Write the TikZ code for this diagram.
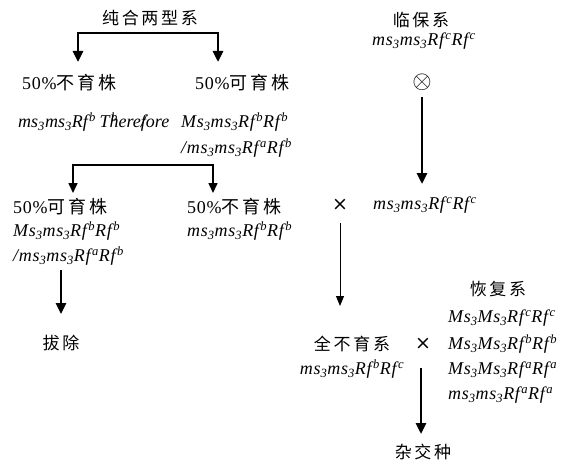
\documentclass[tikz,border=0pt]{standalone}
\usepackage{fontspec}
\setmainfont{Liberation Serif}[LetterSpace=4]
\newfontfamily\cjk[LetterSpace=16]{Noto Sans CJK SC}
\newfontfamily\symf{DejaVu Sans}
\usetikzlibrary{arrows.meta}
\newcommand\lo[1]{\textsubscript{#1}}
\newcommand\hi[1]{\kern0.08em\textsuperscript{#1}}
\newcommand\gen[1]{\textit{#1}}
\tikzset{
  lbl/.style={inner sep=0pt, font=\fontsize{18}{20}\selectfont},
  cn/.style={inner sep=0pt, font=\fontsize{17}{19}\selectfont\cjk},
  sym/.style={inner sep=0pt, font=\fontsize{19}{21}\selectfont\symf},
  thickarr/.style={line width=2.6pt, -{Triangle[width=10pt,length=11pt]}},
  midarr/.style={line width=1.6pt, -{Triangle[width=9pt,length=10pt]}},
  thinarr/.style={line width=0.9pt, -{Triangle[width=8pt,length=10pt]}},
}
\begin{document}
\begin{tikzpicture}[x=1pt,y=-1pt]
\useasboundingbox (0,0) rectangle (577,465);
% left top
\node[cn] (title) at (150,18) {纯合两型系};
\coordinate (j1) at (148,33);
\coordinate (a1) at (78,62);
\coordinate (a2) at (218,62);
\draw[thickarr] (j1) -| (a1);
\draw[thickarr] (j1) -| (a2);
\node[lbl, anchor=west] (s1) at (22,83) {50\%{\cjk 不育株}};
\node[lbl, anchor=west] (f1) at (195,83) {50\%{\cjk 可育株}};
\node[lbl, anchor=west] (s1g) at (18,122) {\addfontfeature{LetterSpace=0}\gen{ms\lo{3}ms\lo{3}Rf\hi{b}\kern0.2em T\rlap{\hi{b}}here\rlap{/}fore}};
\node[lbl, anchor=west] (f1g) at (181,122) {\gen{Ms\lo{3}ms\lo{3}Rf\hi{b}Rf\hi{b}}};
\node[lbl, anchor=west] (f1h) at (181,148) {\gen{/ms\lo{3}ms\lo{3}Rf\hi{a}Rf\hi{b}}};
% second bracket
\coordinate (j2) at (143,165);
\coordinate (a3) at (73,193);
\coordinate (a4) at (213,193);
\draw[midarr] (j2) -| (a3);
\draw[midarr] (j2) -| (a4);
\node[lbl, anchor=west] (f2) at (13,207) {50\%{\cjk 可育株}};
\node[lbl, anchor=west] (f2g) at (13,231) {\gen{Ms\lo{3}ms\lo{3}Rf\hi{b}Rf\hi{b}}};
\node[lbl, anchor=west] (f2h) at (13,256) {\gen{/ms\lo{3}ms\lo{3}Rf\hi{a}Rf\hi{b}}};
\node[lbl, anchor=west] (s2) at (187,207) {50\%{\cjk 不育株}};
\node[lbl, anchor=west] (s2g) at (187,231) {\gen{ms\lo{3}ms\lo{3}Rf\hi{b}Rf\hi{b}}};
\node[cn] (rm) at (61,343) {拔除};
\coordinate (t1) at (61,270);
\coordinate (a5) at (61,314);
\draw[thickarr] (t1) -- (a5);
% right side
\node[cn] (lb) at (421,20) {临保系};
\node[lbl] (lbg) at (424,41) {\gen{ms\lo{3}ms\lo{3}Rf\hi{c}Rf\hi{c}}};
\node[inner sep=0pt, font=\fontsize{27}{29}\selectfont] (ot) at (422,82) {$\otimes$};
\coordinate (a6) at (422,184);
\draw[thickarr] ([yshift=-7pt]ot.south) -- (a6);
\node[sym] (x1) at (340,205) {×};
\node[lbl, anchor=west] (lbg2) at (373,205) {\gen{ms\lo{3}ms\lo{3}Rf\hi{c}Rf\hi{c}}};
\coordinate (a7) at (340,306);
\draw[thinarr] ([yshift=-12pt]x1.south) -- (a7);
\node[cn] (hf) at (498,289) {恢复系};
\node[lbl, anchor=west] (h1) at (448,318) {\gen{Ms\lo{3}Ms\lo{3}Rf\hi{c}Rf\hi{c}}};
\node[lbl, anchor=west] (h2) at (448,344) {\gen{Ms\lo{3}Ms\lo{3}Rf\hi{b}Rf\hi{b}}};
\node[lbl, anchor=west] (h3) at (448,370) {\gen{Ms\lo{3}Ms\lo{3}Rf\hi{a}Rf\hi{a}}};
\node[lbl, anchor=west] (h4) at (448,395) {\gen{ms\lo{3}ms\lo{3}Rf\hi{a}Rf\hi{a}}};
\node[cn] (qb) at (352,344) {全不育系};
\node[sym] (x2) at (423,344) {×};
\node[lbl] (qbg) at (352,369) {\gen{ms\lo{3}ms\lo{3}Rf\hi{b}Rf\hi{c}}};
\coordinate (t8) at (421,368);
\coordinate (a8) at (421,434);
\draw[thickarr] (t8) -- (a8);
\node[cn] (zj) at (423,452) {杂交种};
\end{tikzpicture}
\end{document}
